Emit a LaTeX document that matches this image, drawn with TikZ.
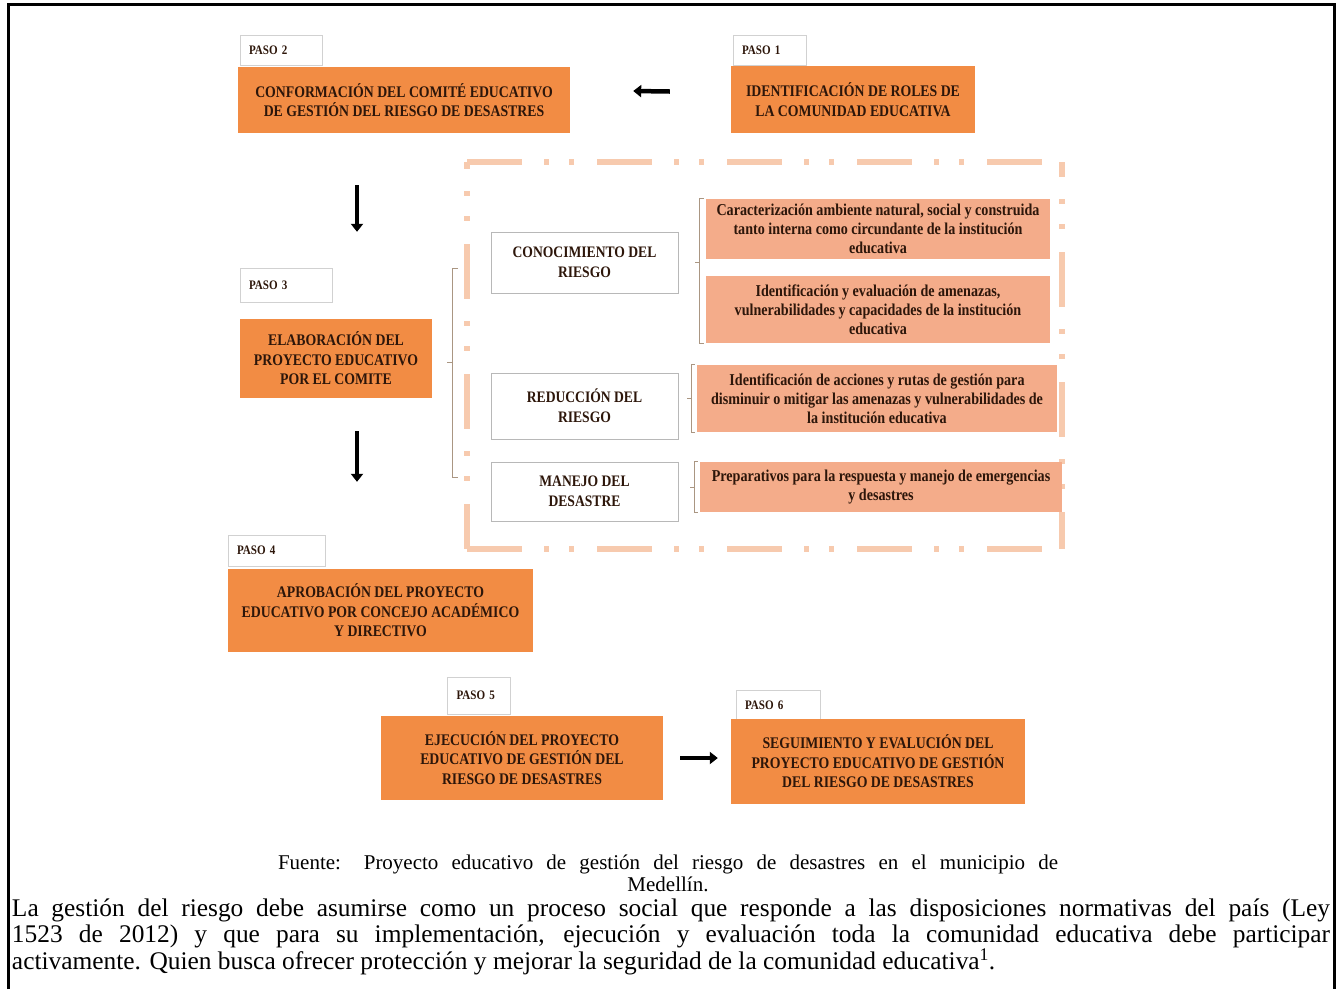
\documentclass[tikz,border=0pt]{standalone}
\usepackage{fontspec}
\setmainfont{Liberation Serif}
\newfontfamily\boxfont[FakeStretch=0.85]{Liberation Serif}
\usepackage{tikz}
\usetikzlibrary{arrows.meta}

\definecolor{stepfill}{RGB}{242,140,68}
\definecolor{itemfill}{RGB}{244,172,138}
\definecolor{framedash}{RGB}{247,202,174}
\definecolor{boxtext}{RGB}{45,22,10}
\definecolor{bracecol}{RGB}{170,150,130}

\begin{document}
\begin{tikzpicture}[x=1pt,y=-1pt,
  stepbox/.style={fill=stepfill,inner sep=0pt,align=center,text=boxtext,
    font=\boxfont\bfseries\fontsize{16.2}{19.5}\selectfont},
  pasobox/.style={draw=black!18,fill=white,inner sep=0pt,inner xsep=9pt,
    minimum height=30pt,align=left,text=boxtext,
    font=\boxfont\bfseries\fontsize{13}{15}\selectfont},
  catbox/.style={draw=black!28,fill=white,inner sep=0pt,minimum width=187pt,
    align=center,text=boxtext,font=\boxfont\bfseries\fontsize{16}{20}\selectfont},
  itembox/.style={fill=itemfill,inner sep=0pt,align=center,text=boxtext,
    font=\boxfont\bfseries\fontsize{16.6}{19}\selectfont},
  bigarrow/.style={line width=4.5pt,-{Triangle[length=8pt,width=12pt]}},
  bracket/.style={draw=bracecol,line width=0.8pt},
  dashline/.style={framedash,line width=6pt,
    dash pattern=on 55pt off 22pt on 5pt off 20pt on 5pt off 23pt},
]
\useasboundingbox (0,0) rectangle (1336,989);

% page frame
\draw[line width=3pt] (8,989) -- (8,4) -- (1334,4) -- (1334,989);

% Steps
\node[pasobox,minimum width=73pt,text width=55pt] (paso1) at (769.5,50) {PASO 1};
\node[stepbox,minimum width=244pt,minimum height=67pt] (step1) at (853,99.5)
  {IDENTIFICACIÓN DE ROLES DE\\LA COMUNIDAD EDUCATIVA};
\node[pasobox,minimum width=82pt,text width=64pt] (paso2) at (281,50) {PASO 2};
\node[stepbox,minimum width=332pt,minimum height=66pt] (step2) at (404,100)
  {CONFORMACIÓN DEL COMITÉ EDUCATIVO\\DE GESTIÓN DEL RIESGO DE DESASTRES};
\node[pasobox,minimum width=92pt,minimum height=34pt,text width=74pt] (paso3) at (286,285) {PASO 3};
\node[stepbox,minimum width=192pt,minimum height=79pt] (step3) at (336,358.5)
  {ELABORACIÓN DEL\\PROYECTO EDUCATIVO\\POR EL COMITE};
\node[pasobox,minimum width=97pt,minimum height=31pt,text width=79pt] (paso4) at (276.5,550.5) {PASO 4};
\node[stepbox,minimum width=305pt,minimum height=83pt] (step4) at (380.5,610.5)
  {APROBACIÓN DEL PROYECTO\\EDUCATIVO POR CONCEJO ACADÉMICO\\Y DIRECTIVO};
\node[pasobox,minimum width=63pt,minimum height=37pt,text width=45pt] (paso5) at (479,695.5) {PASO 5};
\node[stepbox,minimum width=282pt,minimum height=84pt] (step5) at (522,758)
  {EJECUCIÓN DEL PROYECTO\\EDUCATIVO DE GESTIÓN DEL\\RIESGO DE DESASTRES};
\node[pasobox,minimum width=84pt,text width=66pt] (paso6) at (778,705) {PASO 6};
\node[stepbox,minimum width=294pt,minimum height=85pt] (step6) at (878,761.5)
  {SEGUIMIENTO Y EVALUCIÓN DEL\\PROYECTO EDUCATIVO DE GESTIÓN\\DEL RIESGO DE DESASTRES};

% Arrows between steps
\coordinate (col) at (357,0);
\draw[bigarrow] ([xshift=-61pt,yshift=8pt]step1.west) -- ([xshift=63pt,yshift=9pt]step2.east);
\draw[bigarrow] ([yshift=-52pt]step2.south -| col) -- ([yshift=36pt]paso3.north -| col);
\draw[bigarrow] ([yshift=-33pt]step3.south -| col) -- ([yshift=53pt]paso4.north -| col);
\draw[bigarrow] ([xshift=17pt]step5.east) -- ([xshift=-13pt]step6.west |- step5.east);

% Dashed frame round the components
\coordinate (fa) at (467,162);
\coordinate (fb) at (1062,162);
\coordinate (fc) at (1062,549);
\coordinate (fd) at (467,549);
\draw[dashline] (fa) -- (fb);
\draw[dashline] (fd) -- (fc);
\draw[dashline,dash phase=48pt] (fa) -- (fd);
\draw[dashline,dash phase=40pt] (fb) -- (fc);

% Components
\node[catbox,minimum height=61pt] (cono) at (584.5,262.5) {CONOCIMIENTO DEL\\RIESGO};
\node[catbox,minimum height=66pt] (redu) at (584.5,406) {REDUCCIÓN DEL\\RIESGO};
\node[catbox,minimum height=59pt] (mane) at (584.5,491.5) {MANEJO DEL\\DESASTRE};

\node[itembox,minimum width=344pt,minimum height=60pt] (item1) at (878,229)
  {Caracterización ambiente natural, social y construida\\tanto interna como circundante de la institución\\educativa};
\node[itembox,minimum width=344pt,minimum height=67pt] (item2) at (878,309.5)
  {Identificación y evaluación de amenazas,\\vulnerabilidades y capacidades de la institución\\educativa};
\node[itembox,minimum width=360pt,minimum height=67pt] (item3) at (877,398.5)
  {Identificación de acciones y rutas de gestión para\\disminuir o mitigar las amenazas y vulnerabilidades de\\la institución educativa};
\node[itembox,minimum width=362pt,minimum height=50pt] (item4) at (881,487)
  {Preparativos para la respuesta y manejo de emergencias\\y desastres};

% Brackets
\draw[bracket] (458,268) -- (452,268) -- (452,477) -- (458,477);
\draw[bracket] (452,362) -- (447,362);
\draw[bracket] ([xshift=-2pt]item1.north west) -- ([xshift=-6pt]item1.north west)
  -- ([xshift=-6pt]item2.south west) -- ([xshift=-2pt]item2.south west);
\draw[bracket] ([xshift=-6pt]item1.north west |- cono.east) -- ([xshift=-11pt]item1.north west |- cono.east);
\draw[bracket] ([xshift=-2pt]item3.north west) -- ([xshift=-5pt]item3.north west)
  -- ([xshift=-5pt]item3.south west) -- ([xshift=-2pt]item3.south west);
\draw[bracket] ([xshift=-5pt]item3.west) -- ([xshift=-10pt]item3.west);
\draw[bracket] ([xshift=-2pt]item4.north west) -- ([xshift=-5pt]item4.north west)
  -- ([xshift=-5pt]item4.south west) -- ([xshift=-2pt]item4.south west);
\draw[bracket] ([xshift=-5pt]item4.west) -- ([xshift=-10pt]item4.west);

% Caption and paragraph
\node[text width=780pt,align=justify,inner sep=0pt,font=\fontsize{21}{22}\selectfont] (fuente) at (668,873)
  {Fuente: Proyecto educativo de gestión del riesgo de desastres en el municipio de\linebreak
  \makebox[780pt]{Medellín.}};
\node[text width=1318pt,align=justify,inner sep=0pt,font=\fontsize{25.4}{26}\selectfont] (texto) at (671,937)
  {La gestión del riesgo debe asumirse como un proceso social que responde a las disposiciones normativas del país (Ley\linebreak
  1523 de 2012) y que para su implementación, ejecución y evaluación toda la comunidad educativa debe participar\linebreak
  activamente. Quien busca ofrecer protección y mejorar la seguridad de la comunidad educativa\textsuperscript{1}.};
\end{tikzpicture}
\end{document}
